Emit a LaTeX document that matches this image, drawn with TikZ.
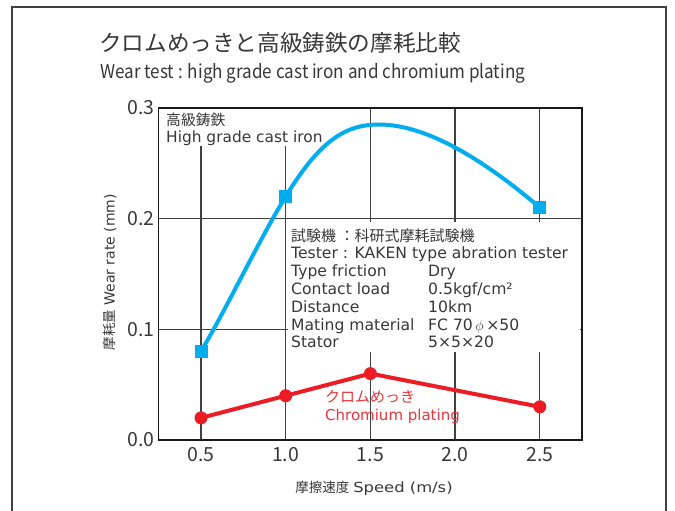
\documentclass[tikz,border=0pt]{standalone}
\usepackage{fontspec}
\setmainfont{Noto Sans CJK JP}
\newfontfamily\lat{DejaVu Sans}
\definecolor{ink}{HTML}{383838}
\definecolor{wearblue}{HTML}{00AEEF}
\definecolor{wearred}{HTML}{ED1C24}
\newcommand\latbox{\lat\fontsize{15.6}{17.8}\selectfont}
\tikzset{
  gridline/.style={line width=1.3pt, black!75},
  plotframe/.style={line width=1.5pt, black!90},
  ticklabel/.style={inner sep=0pt, font=\fontsize{19.5}{19.5}\selectfont},
  bluemark/.style={rectangle, fill=wearblue, inner sep=0pt, minimum size=13pt},
  redmark/.style={circle, fill=wearred, inner sep=0pt, minimum size=13pt},
  curve/.style={line width=4pt, line join=round}
}
\begin{document}
\begin{tikzpicture}[x=1pt,y=-1pt,every node/.style={text=ink}]
  \useasboundingbox (0,0) rectangle (675,511);
  \draw[line width=2pt, black!75] (12,511) -- (12,7) -- (666,7) -- (666,511);
  \node[anchor=base west, inner sep=0pt, font=\fontsize{22.6}{24}\selectfont] (title) at (99,52)
    {クロムめっきと高級鋳鉄の摩耗比較};
  \node[anchor=base west, inner sep=0pt, font=\fontsize{19}{20}\selectfont] (subtitle) at (100,78)
    {\scalebox{0.9}[1]{Wear test : high grade cast iron and chromium plating}};
  \begin{scope}[shift={(116.3pt,-440pt)}, x=169.4pt, y=1107pt]
    \foreach \x [count=\i] in {0.5,1.0,1.5,2.0,2.5} {
      \draw[gridline] (\x,0) -- (\x,0.3);
      \node[ticklabel] (xtick\i) at (\x,-0.0135) {\x};
    }
    \foreach \y in {0.1,0.2}
      \draw[gridline] (0.25,\y) -- (2.75,\y);
    \foreach \y [count=\i] in {0.0,0.1,0.2,0.3}
      \node[ticklabel, anchor=east] (ytick\i) at (0.228,\y) {\y};
    % white grounds behind the labels
    \fill[white] (0.258,0.2656) rectangle (1.273,0.3);
    \fill[white] (1.0136,0.0795) rectangle (2.737,0.197);
  \end{scope}
  \node[anchor=base west, inner sep=0pt, font=\fontsize{14.8}{17}\selectfont] (ironlabel) at (166,125)
    {\begin{tabular}[t]{@{}l@{}}高級鋳鉄\\{\lat\fontsize{15.4}{17}\selectfont High grade cast iron}\end{tabular}};
  \node[anchor=base west, inner sep=0pt, font=\fontsize{15}{17.8}\selectfont] (tester) at (291,241)
    {\begin{tabular}[t]{@{}p{137pt}@{}l@{}}
      \multicolumn{2}{@{}l@{}}{試験機 ：科研式摩耗試験機}\\
      \multicolumn{2}{@{}l@{}}{\latbox Tester : KAKEN type abration tester}\\
      \latbox Type friction & \latbox Dry\\
      \latbox Contact load & \latbox 0.5kgf/cm²\\
      \latbox Distance & \latbox 10km\\
      \latbox Mating material & \latbox FC 70\,$\phi$\,×50\\
      \latbox Stator & \latbox 5×5×20
    \end{tabular}};
  \node[anchor=base west, inner sep=0pt, text=wearred!90!white, font=\fontsize{15}{18.5}\selectfont] (chromlabel) at (325,402)
    {\begin{tabular}[t]{@{}l@{}}クロムめっき\\{\lat Chromium plating}\end{tabular}};
  \node[rotate=90, inner sep=0pt, font=\fontsize{13.5}{13.5}\selectfont] (ylabel) at (110,272)
    {摩耗量\hspace{4pt}{\lat\fontsize{14}{14}\selectfont Wear rate (mm)}};
  \node[inner sep=0pt, font=\fontsize{13.5}{13.5}\selectfont] (xlabel) at (374,488)
    {摩擦速度\hspace{4pt}{\lat\fontsize{14}{14}\selectfont\scalebox{1.17}[1]{Speed (m/s)}}};
  \begin{scope}[shift={(116.3pt,-440pt)}, x=169.4pt, y=1107pt]
    % high grade cast iron
    \node[bluemark] (b1) at (0.5,0.08) {};
    \node[bluemark] (b2) at (1.0,0.22) {};
    \node[bluemark] (b3) at (2.5,0.21) {};
    \coordinate (peak) at (1.55,0.285);
    \draw[curve, wearblue] (b1.center) .. controls (0.667,0.1233) and (0.833,0.178) .. (b2.center)
      .. controls (1.2,0.27) and (1.35,0.285) .. (peak)
      .. controls (1.85,0.285) and (2.2,0.249) .. (b3.center);
    % chromium plating
    \foreach \x/\y [count=\i] in {0.5/0.02,1.0/0.04,1.5/0.06,2.5/0.03}
      \node[redmark] (r\i) at (\x,\y) {};
    \draw[curve, wearred] (r1.center) -- (r2.center) -- (r3.center) -- (r4.center);
    \draw[plotframe] (0.25,0) rectangle (2.75,0.3);
  \end{scope}
\end{tikzpicture}
\end{document}
